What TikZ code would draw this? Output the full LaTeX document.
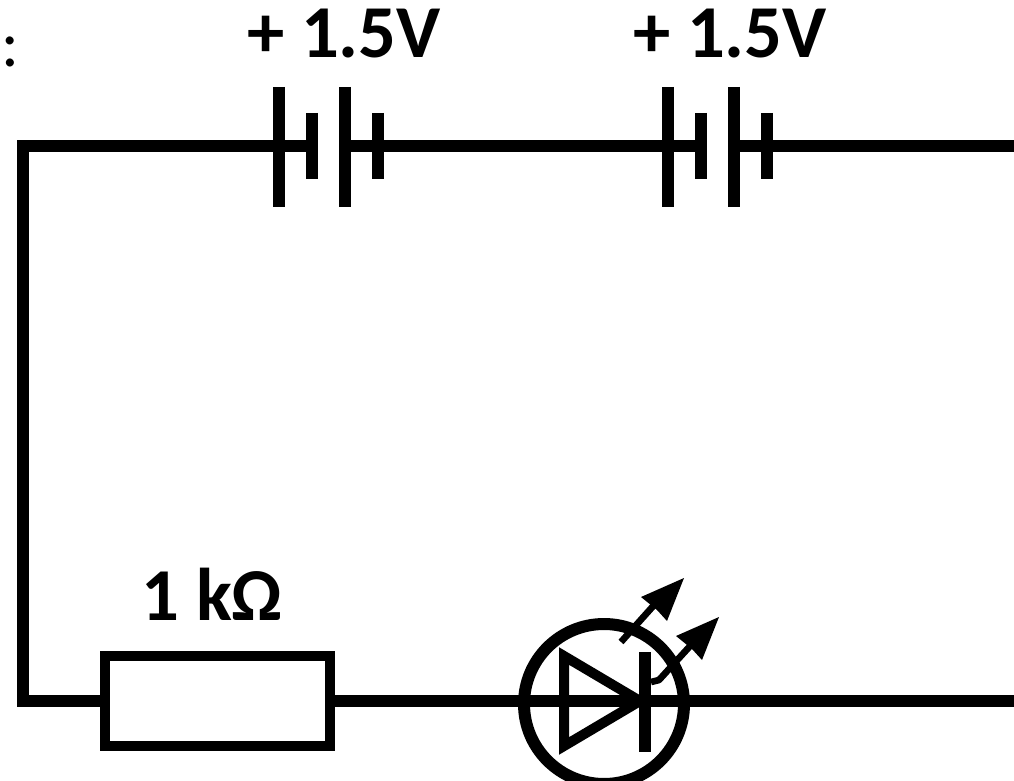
\documentclass[tikz,border=0pt]{standalone}
\usepackage{fontspec}
\setmainfont{Carlito}
\begin{document}
\begin{tikzpicture}[x=0.75pt,y=-0.75pt,
  wire/.style={line width=8.6pt,line cap=butt,line join=miter},
  plate/.style={line width=9pt,line cap=butt},
  body/.style={line width=7.5pt,line join=miter},
  lab/.style={font=\bfseries\fontsize{56}{56}\selectfont,inner sep=0pt,anchor=base,text=black},
  tip/.style={fill=black,draw=none}]
\useasboundingbox (0,0) rectangle (1014,781);
\coordinate (tl) at (23,146);
\coordinate (bl) at (23,701);
\coordinate (tr) at (1014,146);
\coordinate (br) at (1014,701);
% batteries
\coordinate (b1a) at (279,146); \coordinate (b1b) at (312,146);
\coordinate (b1c) at (345,146); \coordinate (b1d) at (378,146);
\coordinate (b2a) at (668,146); \coordinate (b2b) at (701,146);
\coordinate (b2c) at (734,146); \coordinate (b2d) at (767,146);
% resistor
\node[draw=black,line width=7.5pt,fill=white,minimum width=168.75pt,minimum height=67.5pt,inner sep=0pt,outer sep=0pt] (res) at (217.5,701) {};
% wires
\draw[wire] (b1b) -- (tl) -- (bl) -- (res.west);
\draw[wire] (b1c) -- (b2b);
\draw[wire] (b2c) -- (tr);
\draw[wire] (res.east) -- (br);
% cells
\foreach \p in {b1a,b1c,b2a,b2c} \draw[plate] ([yshift=44.25pt]\p) -- ([yshift=-45.75pt]\p);
\foreach \p in {b1b,b1d,b2b,b2d} \draw[plate] ([yshift=24.75pt]\p) -- ([yshift=-24.75pt]\p);
% LED
\draw[body] (564,656) -- (564,746) -- (640,701) -- cycle;
\draw[plate] (645,652) -- (645,752);
\draw[line width=5pt] (621,642) -- (655,604);
\fill[tip] (684,578) -- (667,621) -- (657,610) -- (641,597) -- cycle;
\draw[line width=5pt,line join=round] (651,682) -- (659,680) -- (691,645);
\fill[tip] (719,617) -- (702,660) -- (692,649) -- (676,636) -- cycle;
\node[draw=black,line width=9pt,circle,minimum size=120pt,inner sep=0pt] (led) at (604,704) {};
% labels
\node[lab] (v1) at (344,57.5) {+ 1.5V};
\node[lab] (v2) at (730,57.5) {+ 1.5V};
\node[lab] (r1) at (212,620) {1 k\symbol{"03A9}};
\node[lab,font=\fontsize{50}{50}\selectfont] (col) at (10,67) {:};
\end{tikzpicture}
\end{document}
